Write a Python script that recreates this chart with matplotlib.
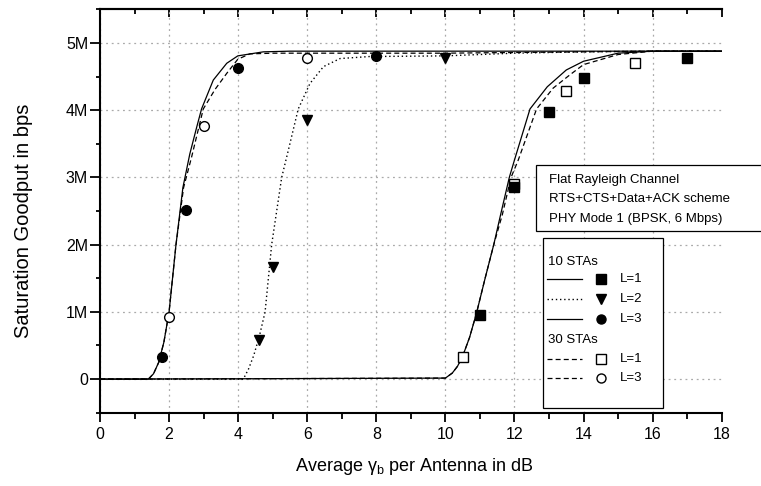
import numpy as np
import matplotlib
matplotlib.use('Agg')
import matplotlib.pyplot as plt
from matplotlib.patches import Rectangle
from matplotlib.lines import Line2D
from matplotlib.ticker import MultipleLocator

plt.rcParams['font.family'] = ['Liberation Sans', 'DejaVu Sans']
plt.rcParams['mathtext.fontset'] = 'custom'
plt.rcParams['mathtext.rm'] = 'Liberation Sans'

M = 1e6

# analytic curves, values in Mbps
l1_10_x = [0, 4, 10, 10.2, 10.35, 10.5, 10.7, 10.9, 11.15, 11.4, 11.6, 11.85, 12.0, 12.45, 12.95, 13.5, 14, 15, 16, 18]
l1_10_y = [0, 0.005, 0.015, 0.09, 0.19, 0.34, 0.62, 0.98, 1.5, 2.0, 2.45, 3.0, 3.26, 4.02, 4.35, 4.6, 4.73, 4.85, 4.88, 4.88]
l1_30_x = [0, 4, 10, 10.2, 10.35, 10.5, 10.7, 10.9, 11.15, 11.4, 11.65, 11.9, 12.11, 12.64, 13.12, 13.61, 14, 15, 16, 18]
l1_30_y = [0, 0.005, 0.015, 0.09, 0.19, 0.34, 0.62, 0.98, 1.5, 2.0, 2.45, 3.0, 3.26, 4.02, 4.33, 4.53, 4.68, 4.83, 4.88, 4.88]
l2_10_x = [0, 4.15, 4.3, 4.45, 4.61, 4.78, 4.97, 5.26, 5.45, 5.74, 6.08, 6.47, 6.95, 7.8, 10, 12, 14, 16, 18]
l2_10_y = [0, 0, 0.15, 0.35, 0.63, 1.0, 2.0, 3.0, 3.4, 4.02, 4.4, 4.65, 4.77, 4.8, 4.81, 4.85, 4.87, 4.88, 4.88]
l3_10_x = [0, 1.4, 1.55, 1.7, 1.85, 2.0, 2.2, 2.4, 2.6, 2.8, 2.94, 3.28, 3.67, 3.99, 4.73, 5.5, 18]
l3_10_y = [0, 0, 0.08, 0.25, 0.55, 1.0, 2.0, 2.85, 3.35, 3.75, 4.02, 4.45, 4.7, 4.81, 4.87, 4.88, 4.88]
l3_30_x = [0, 1.4, 1.55, 1.7, 1.85, 2.0, 2.2, 2.42, 2.65, 2.99, 3.33, 3.67, 3.99, 4.34, 5.02, 10, 12, 14, 16, 18]
l3_30_y = [0, 0, 0.08, 0.25, 0.55, 1.0, 2.0, 2.85, 3.3, 4.02, 4.31, 4.55, 4.76, 4.84, 4.85, 4.85, 4.86, 4.87, 4.88, 4.88]

# simulation points
sq10_x = [11, 12, 13, 14, 17]
sq10_y = [0.95, 2.86, 3.97, 4.48, 4.78]
tri10_x = [4.6, 5, 6, 10]
tri10_y = [0.575, 1.67, 3.86, 4.78]
ci10_x = [1.8, 2.5, 4, 8]
ci10_y = [0.336, 2.52, 4.63, 4.81]
sq30_x = [10.5, 12, 13.5, 15.5]
sq30_y = [0.336, 2.91, 4.28, 4.71]
ci30_x = [2, 3, 6]
ci30_y = [0.917, 3.77, 4.78]

W, H = 761, 486
fig = plt.figure(figsize=(W / 100, H / 100), dpi=100)
ax = fig.add_axes([100 / W, (H - 412.7) / H, 621.7 / W, 403.2 / H])

solid = dict(color='k', lw=0.9, ls='-')
dotted = dict(color='k', lw=1.0, ls=(0, (1, 2)))
dashed = dict(color='k', lw=0.9, ls=(0, (4, 2.5)))

ax.plot(l1_10_x, np.array(l1_10_y) * M, **solid)
ax.plot(l1_30_x, np.array(l1_30_y) * M, **dashed)
ax.plot(l2_10_x, np.array(l2_10_y) * M, **dotted)
ax.plot(l3_10_x, np.array(l3_10_y) * M, **solid)
ax.plot(l3_30_x, np.array(l3_30_y) * M, **dashed)

mk = dict(ls='none', mec='k', mew=1.0)
ax.plot(sq30_x, np.array(sq30_y) * M, 's', ms=6.5, mfc='white', zorder=4, **mk)
ax.plot(ci30_x, np.array(ci30_y) * M, 'o', ms=7, mfc='white', zorder=4, **mk)
ax.plot(sq10_x, np.array(sq10_y) * M, 's', ms=7, mfc='k', zorder=5, **mk)
ax.plot(tri10_x, np.array(tri10_y) * M, 'v', ms=7.5, mfc='k', zorder=5, **mk)
ax.plot(ci10_x, np.array(ci10_y) * M, 'o', ms=7, mfc='k', zorder=5, **mk)

ax.set_xlim(0, 18)
ax.set_ylim(-0.5 * M, 5.5 * M)
ax.set_xticks(range(0, 19, 2))
ax.xaxis.set_minor_locator(MultipleLocator(1))
ax.set_yticks([0, M, 2 * M, 3 * M, 4 * M, 5 * M])
ax.set_yticklabels(['0', '1M', '2M', '3M', '4M', '5M'])
ax.yaxis.set_minor_locator(MultipleLocator(0.5 * M))

ax.tick_params(axis='both', which='major', labelsize=11.5, width=1.3)
ax.tick_params(axis='x', which='major', direction='out', length=6.5, pad=4)
ax.tick_params(axis='x', which='minor', direction='out', length=4, width=1.3)
ax.tick_params(axis='y', which='major', direction='out', length=7, pad=1.5)
ax.tick_params(axis='y', which='minor', direction='out', length=3, width=1.3)

ax.grid(True, which='major', color='#aaaaaa', lw=0.9, ls=(0, (1.5, 3)))
ax.set_axisbelow(True)
fig.canvas.draw()
ax.xaxis.get_gridlines()[-1].set_visible(False)

for s in ['left', 'bottom', 'top']:
    ax.spines[s].set_linewidth(1.5)
ax.spines['right'].set_visible(False)

top = ax.secondary_xaxis('top')
top.set_xticks(range(0, 19, 2))
top.xaxis.set_minor_locator(MultipleLocator(1))
top.tick_params(which='major', direction='in', length=6, width=1.3, labeltop=False)
top.tick_params(which='minor', direction='in', length=3.5, width=1.3)
top.spines['top'].set_linewidth(1.5)

ax.set_ylabel('Saturation Goodput in bps', fontsize=14.5)
ax.yaxis.set_label_coords(-0.108, 0.475)
ax.set_xlabel('Average γ$_\\mathrm{b}$ per Antenna in dB', fontsize=13)
ax.xaxis.set_label_coords(0.505, -0.108)

# overlay in pixel coordinates for the info box and legend
ov = fig.add_axes([0, 0, 1, 1], zorder=10)
ov.set_xlim(0, W)
ov.set_ylim(H, 0)
ov.axis('off')
ov.patch.set_alpha(0)

ov.add_patch(Rectangle((536, 165), 240, 66, fc='white', ec='k', lw=0.9, clip_on=False))
for yy, txt in zip([180, 199.3, 219.3],
                   ['Flat Rayleigh Channel', 'RTS+CTS+Data+ACK scheme', 'PHY Mode 1 (BPSK, 6 Mbps)']):
    ov.text(549, yy, txt, fontsize=9.5, va='center', ha='left')

ov.add_patch(Rectangle((542.7, 238), 120, 170, fc='white', ec='k', lw=0.9))
ov.text(548, 261.7, '10 STAs', fontsize=9.5, va='center')
ov.text(548, 340, '30 STAs', fontsize=9.5, va='center')
rows = [(279.3, solid, 's', 'k', 'L=1'),
        (299.3, dotted, 'v', 'k', 'L=2'),
        (319.3, solid, 'o', 'k', 'L=3'),
        (359.3, dashed, 's', 'white', 'L=1'),
        (378.3, dashed, 'o', 'white', 'L=3')]
for yy, st, m, fc, lab in rows:
    ov.add_line(Line2D([547, 581.7], [yy, yy], **st))
    ov.add_line(Line2D([601], [yy], marker=m, ms=6.5, mfc=fc, mec='k', mew=1.0, ls='none'))
    ov.text(620, yy, lab, fontsize=9.5, va='center')

fig.savefig('out.png', dpi=100)
